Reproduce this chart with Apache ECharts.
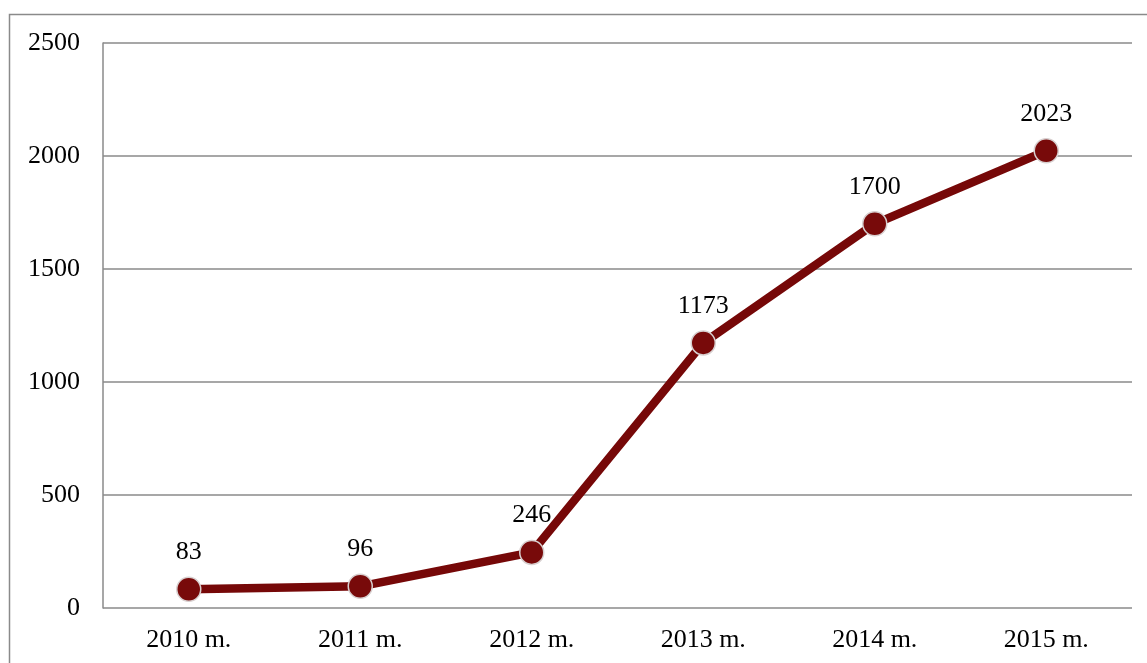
<!DOCTYPE html>
<html>
<head>
<meta charset="utf-8">
<script src="https://cdn.jsdelivr.net/npm/echarts@6/dist/echarts.min.js"></script>
<style>
html,body{margin:0;padding:0;background:#fff;}
#chart{width:1147px;height:663px;}
</style>
</head>
<body>
<div id="chart"></div>
<script>
const categories = ['2010 m.', '2011 m.', '2012 m.', '2013 m.', '2014 m.', '2015 m.'];
const values = [83, 96, 246, 1173, 1700, 2023];
const yMin = 0, yMax = 2500, yInterval = 500;

const chart = echarts.init(document.getElementById('chart'));
const font = '"Liberation Serif", "Times New Roman", serif';
chart.setOption({
  animation: false,
  backgroundColor: '#fff',
  graphic: [{
    type: 'rect',
    shape: {x: 9.5, y: 14.5, width: 1300, height: 800},
    style: {fill: 'none', stroke: '#8a8a8a', lineWidth: 1.5},
    silent: true
  }],
  grid: {left: 103, top: 43, right: 15, bottom: 55},
  xAxis: {
    type: 'category',
    data: categories,
    boundaryGap: true,
    axisLine: {show: false},
    axisTick: {show: false},
    axisLabel: {fontFamily: font, fontSize: 26, color: '#000', margin: 19}
  },
  yAxis: {
    type: 'value',
    min: yMin, max: yMax, interval: yInterval,
    axisLine: {show: true, lineStyle: {color: '#8a8a8a', width: 1.5}},
    axisTick: {show: false},
    axisLabel: {fontFamily: font, fontSize: 26, color: '#000', margin: 23, formatter: v => String(v)},
    splitLine: {show: true, lineStyle: {color: '#8a8a8a', width: 1.5}}
  },
  series: [{
    type: 'line',
    data: values,
    symbol: 'circle',
    symbolSize: 24,
    lineStyle: {color: '#760808', width: 8.5},
    itemStyle: {color: '#780a0a', borderColor: '#d8d0d0', borderWidth: 1.5},
    label: {show: true, position: 'top', distance: 11, fontFamily: font, fontSize: 26, color: '#000'}
  }]
});
</script>
</body>
</html>
